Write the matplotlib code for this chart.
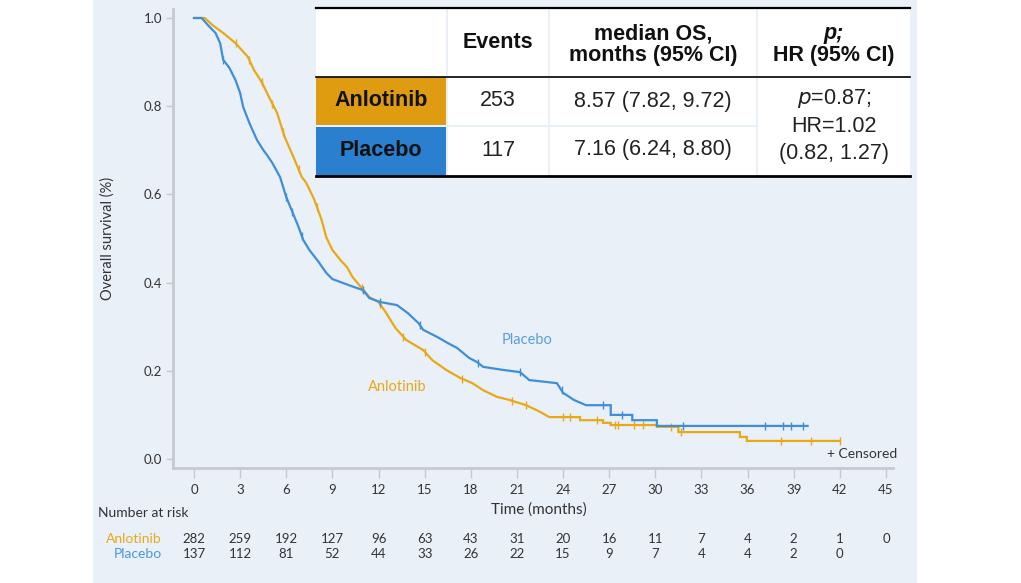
import numpy as np
import matplotlib
matplotlib.use("Agg")
import matplotlib.pyplot as plt
from matplotlib.patches import Rectangle

# ---------------- data ----------------
anl_t = [0, 0.7, 1.2, 1.9, 2.7, 3.5, 3.9, 4.4, 4.9, 5.4, 5.9, 6.5, 7.0, 7.3, 7.8, 8.3, 8.6,
         9.0, 9.5, 9.95, 10.3, 10.9, 11.4, 12.0, 12.5, 13.1, 13.8, 14.9, 15.5, 16.4, 17.3,
         18.1, 18.8, 19.7, 20.5, 21.6, 22.5, 23.1, 25.1, 25.1, 26.6, 26.6, 27.1, 27.1, 30.1,
         30.1, 31.5, 31.5, 35.5, 35.5, 35.95, 35.95, 42.0]
anl_s = [1.0, 1.0, 0.984, 0.966, 0.943, 0.912, 0.882, 0.855, 0.819, 0.785, 0.730, 0.682,
         0.640, 0.626, 0.590, 0.542, 0.503, 0.474, 0.452, 0.435, 0.413, 0.388, 0.367, 0.356,
         0.331, 0.297, 0.270, 0.247, 0.224, 0.202, 0.184, 0.172, 0.156, 0.141, 0.134, 0.122,
         0.107, 0.095, 0.095, 0.088, 0.088, 0.082, 0.082, 0.077, 0.077, 0.073, 0.073, 0.061,
         0.061, 0.050, 0.050, 0.041, 0.041]
anl_cens = [2.7, 3.6, 4.4, 5.1, 5.8, 6.8, 8.0, 10.9, 12.1, 13.6, 15.0, 17.4, 20.7, 21.6,
            24.0, 24.45, 26.2, 27.4, 27.6, 28.6, 29.2, 31.0, 31.7, 38.2, 40.1, 42.0]

pla_t = [0, 0.5, 0.9, 1.4, 1.7, 1.9, 2.3, 2.7, 3.0, 3.2, 3.6, 4.1, 4.5, 4.75, 5.1, 5.6, 6.0,
         6.4, 6.8, 7.1, 7.5, 8.1, 8.6, 9.0, 9.7, 10.4, 11.0, 11.4, 12.1, 13.2, 13.9, 14.6,
         14.9, 15.8, 16.5, 17.1, 17.9, 18.4, 18.8, 20.1, 21.2, 21.8, 23.6, 24.0, 24.4, 24.7,
         25.5, 27.1, 27.1, 28.5, 28.5, 30.1, 30.1, 39.9]
pla_s = [1.0, 1.0, 0.984, 0.966, 0.943, 0.905, 0.887, 0.859, 0.830, 0.798, 0.762, 0.723,
         0.701, 0.689, 0.671, 0.639, 0.594, 0.560, 0.526, 0.497, 0.474, 0.447, 0.422, 0.408,
         0.399, 0.390, 0.383, 0.365, 0.356, 0.349, 0.331, 0.308, 0.293, 0.277, 0.263, 0.252,
         0.229, 0.220, 0.209, 0.202, 0.197, 0.179, 0.172, 0.150, 0.141, 0.134, 0.122, 0.122,
         0.100, 0.100, 0.088, 0.088, 0.075, 0.075]
pla_cens = [1.9, 6.0, 6.4, 7.0, 11.0, 12.1, 14.7, 18.5, 21.2, 23.9, 26.6, 27.8, 31.8,
            37.1, 38.3, 38.8, 39.6]

x_ticks = list(range(0, 46, 3))
y_ticks = [0.0, 0.2, 0.4, 0.6, 0.8, 1.0]
risk_anl = [282, 259, 192, 127, 96, 63, 43, 31, 20, 16, 11, 7, 4, 2, 1, 0]
risk_pla = [137, 112, 81, 52, 44, 33, 26, 22, 15, 9, 7, 4, 4, 2, 0]
groups = ["Anlotinib", "Placebo"]
events = ["253", "117"]
median_os = ["8.57 (7.82, 9.72)", "7.16 (6.24, 8.80)"]
header_events = "Events"
header_median = ["median OS,", "months (95% CI)"]
header_hr = ["HR (95% CI)"]
hr_lines = ["=0.87;", "HR=1.02", "(0.82, 1.27)"]

# ---------------- style ----------------
C_ANL = "#E8A917"
C_PLA = "#3F8FD8"
C_ANL_CELL = "#DF9C10"
C_PLA_CELL = "#2A7FCF"
BG = "#EAF0F8"
SPINE = "#C5C9D0"
TXT = "#333333"
FONT = "Lato"

W, H = 1021, 583
fig = plt.figure(figsize=(W / 100, H / 100), dpi=100, facecolor="white")

# overlay axes in pixel coordinates for panel
ov = fig.add_axes([0, 0, 1, 1], zorder=0)
ov.set_xlim(0, W)
ov.set_ylim(H, 0)
ov.axis("off")
ov.add_patch(Rectangle((93, 0), 824, H, facecolor=BG, edgecolor="none"))

# main axes
px_per_m = 692 / 45.0
x0_px, y0_px, y1_px = 194, 459, 18
ppu = (y0_px - y1_px)
xl = (173 - x0_px) / px_per_m
xr = (893 - x0_px) / px_per_m
yb, yt = -0.02, 1.02
left = 173 / W
width = 720 / W
bot_px = y0_px + 0.02 * ppu
top_px = y0_px - 1.02 * ppu
ax = fig.add_axes([left, 1 - bot_px / H, width, (bot_px - top_px) / H], zorder=1)
ax.set_facecolor("none")
ax.set_xlim(xl, xr)
ax.set_ylim(yb, yt)
for s in ["top", "right"]:
    ax.spines[s].set_visible(False)
for s in ["left", "bottom"]:
    ax.spines[s].set_color(SPINE)
    ax.spines[s].set_linewidth(2)
ax.set_xticks(x_ticks)
ax.set_yticks(y_ticks)
ax.set_yticklabels([f"{v:.1f}" for v in y_ticks])
ax.tick_params(axis="x", direction="out", length=7, width=1, color=SPINE,
               labelsize=9.5, labelcolor=TXT, pad=5)
ax.tick_params(axis="y", direction="out", length=5, width=1, color=SPINE,
               labelsize=9.5, labelcolor=TXT, pad=3)
for lab in ax.get_xticklabels() + ax.get_yticklabels():
    lab.set_fontfamily(FONT)

# curves
ax.plot(anl_t, anl_s, color=C_ANL, lw=1.6, zorder=3, solid_joinstyle="miter")
ax.plot(pla_t, pla_s, color=C_PLA, lw=1.6, zorder=4, solid_joinstyle="miter")
ax.plot(anl_cens, np.interp(anl_cens, anl_t, anl_s), ls="none", marker="|", ms=6,
        mew=1.0, color=C_ANL, zorder=3)
ax.plot(pla_cens, np.interp(pla_cens, pla_t, pla_s), ls="none", marker="|", ms=6,
        mew=1.0, color=C_PLA, zorder=4)

ax.text(21.65, 0.27, "Placebo", color="#5B9EDC", fontsize=10.5, family=FONT,
        ha="center", va="center")
ax.text(13.2, 0.163, "Anlotinib", color=C_ANL, fontsize=10.5, family=FONT,
        ha="center", va="center")
ax.text(45.7, 0.011, "+ Censored", color=TXT, fontsize=10, family=FONT,
        ha="right", va="center")

ax.set_ylabel("Overall survival (%)", fontsize=10.5, family=FONT, color=TXT, labelpad=21)

# x label and risk table (axes-fraction y)
tr = ax.get_xaxis_transform()
def yfrac(py):
    return (bot_px - py) / (bot_px - top_px)
ax.text(22.4, yfrac(510), "Time (months)", transform=tr, ha="center", va="center",
        fontsize=11, family=FONT, color=TXT, clip_on=False)
ax.text((98 - x0_px) / px_per_m, yfrac(513), "Number at risk", transform=tr, ha="left",
        va="center", fontsize=10, family=FONT, color=TXT, clip_on=False)
lab_x = (162 - x0_px) / px_per_m
ax.text(lab_x, yfrac(539), groups[0], transform=tr, ha="right", va="center",
        fontsize=10, family=FONT, color=C_ANL, clip_on=False)
ax.text(lab_x, yfrac(554), groups[1], transform=tr, ha="right", va="center",
        fontsize=10, family=FONT, color="#4C97DE", clip_on=False)
for xt, n in zip(x_ticks, risk_anl):
    ax.text(xt, yfrac(539), str(n), transform=tr, ha="center", va="center",
            fontsize=9.5, family=FONT, color=TXT, clip_on=False)
for xt, n in zip(x_ticks, risk_pla):
    ax.text(xt, yfrac(554), str(n), transform=tr, ha="center", va="center",
            fontsize=9.5, family=FONT, color=TXT, clip_on=False)

# ---------------- table (overlay pixel coords) ----------------
tb = fig.add_axes([0, 0, 1, 1], zorder=5)
tb.set_xlim(0, W)
tb.set_ylim(H, 0)
tb.axis("off")
tb.set_facecolor("none")
cols = [(316, 446), (448, 548), (550, 756), (758, 910)]
r_head = (8, 77)
r1 = (77, 125)
r2 = (127, 176)
def cell(c, r, fc):
    tb.add_patch(Rectangle((c[0], r[0]), c[1] - c[0], r[1] - r[0], facecolor=fc,
                           edgecolor="none"))
for c in cols:
    cell(c, r_head, "white")
cell(cols[0], r1, C_ANL_CELL)
cell(cols[0], r2, C_PLA_CELL)
for c in cols[1:3]:
    cell(c, r1, "white")
    cell(c, r2, "white")
cell(cols[3], (r1[0], r2[1]), "white")
tb.plot([316, 910], [8, 8], color="black", lw=1.6)
tb.plot([316, 910], [77, 77], color="black", lw=1.2)
tb.plot([316, 910], [176, 176], color="black", lw=2.0)

TF = "Liberation Sans"
cx = [(a + b) / 2 for a, b in cols]
tb.text(cx[1], 43, header_events, ha="center", va="center", fontsize=15.5,
        fontweight="bold", family=TF, color="#111111")
tb.text(cx[2], 34, header_median[0], ha="center", va="center", fontsize=15.5,
        fontweight="bold", family=TF, color="#111111")
tb.text(cx[2], 56, header_median[1], ha="center", va="center", fontsize=15.5,
        fontweight="bold", family=TF, color="#111111")
tb.text(cx[3], 34, "p;", ha="center", va="center", fontsize=15.5, fontweight="bold",
        style="italic", family=TF, color="#111111")
tb.text(cx[3], 56, header_hr[0], ha="center", va="center", fontsize=15.5,
        fontweight="bold", family=TF, color="#111111")
rows_y = [101, 150]
for i in range(2):
    tb.text(cx[0], rows_y[i], groups[i], ha="center", va="center", fontsize=15.5,
            fontweight="bold", family=TF, color="#111111")
    tb.text(cx[1], rows_y[i], events[i], ha="center", va="center", fontsize=15.5,
            family=TF, color="#222222")
    tb.text(cx[2], rows_y[i], median_os[i], ha="center", va="center", fontsize=15.5,
            family=TF, color="#222222")
tb.text(cx[3], 99, r"$\it{p}$" + hr_lines[0], ha="center", va="center", fontsize=15.5,
        family=TF, color="#222222")
tb.text(cx[3], 126, hr_lines[1], ha="center", va="center", fontsize=15.5,
        family=TF, color="#222222")
tb.text(cx[3], 154, hr_lines[2], ha="center", va="center", fontsize=15.5,
        family=TF, color="#222222")

fig.savefig("out.png", dpi=100, facecolor="white")
